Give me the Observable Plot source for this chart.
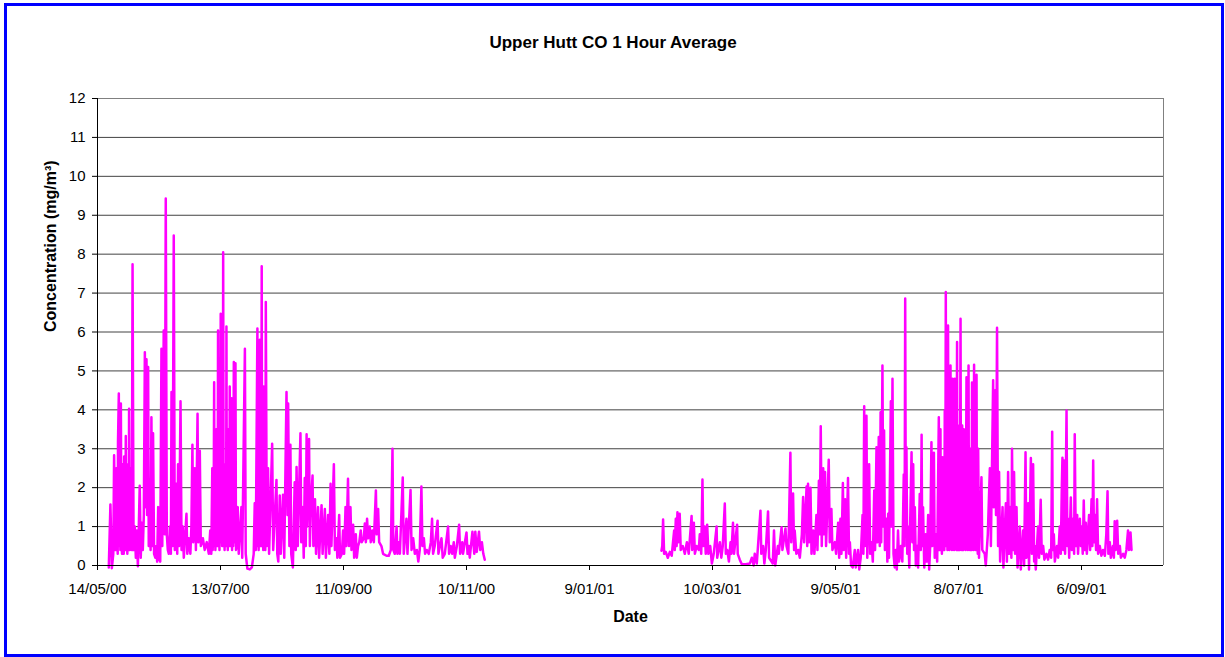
<!DOCTYPE html>
<html><head><meta charset="utf-8">
<script src="https://cdn.jsdelivr.net/npm/d3@7"></script>
<script src="https://cdn.jsdelivr.net/npm/@observablehq/plot@0.6"></script>
<style>
body{margin:0;background:#fff;}
#wrap{position:relative;width:1225px;height:657px;overflow:hidden;background:#fff;}
#wrap svg{display:block;position:absolute;left:0;top:0;}
#border{position:absolute;left:4px;top:3px;width:1220px;height:654px;border:3px solid #0000ff;box-sizing:border-box;pointer-events:none;}
</style></head><body><div id="wrap"><div id="border"></div></div>
<script>
// ---- chart texts ----
const titleText = "Upper Hutt CO 1 Hour Average";
const xLabel = "Date";
const yLabel = "Concentration (mg/m³)";

// ---- axes ----
const startDate = "14/05/00";          // first day of the date axis (day 0)
const endDate = "16/10/01";            // last day of the date axis
const xTickLabels = ["14/05/00","13/07/00","11/09/00","10/11/00","9/01/01","10/03/01","9/05/01","8/07/01","6/09/01"];
const yTickValues = [0,1,2,3,4,5,6,7,8,9,10,11,12];

// ---- data: time in days since 14/05/00, CO concentration in mg/m3 ----
// Period 1: May - Nov 2000
const days2000 = [5.5,6.3,7.0,7.7,8.1,8.7,
9.2,9.45,9.7,9.85,10.0,10.4,10.65,10.9,11.15,11.4,11.65,11.8,11.95,12.2,12.4,12.6,12.8,13.0,13.2,13.4,13.6,13.8,14.05,14.3,14.55,14.8,14.95,15.1,15.25,15.4,15.7,16.0,16.2,
16.7,17.1,17.6,18.2,18.7,19.2,19.7,20.6,21.1,21.6,22.1,22.6,23.1,23.5,23.9,24.2,24.7,25.0,25.5,25.9,26.3,26.7,27.1,27.6,28.2,28.7,29.1,29.6,30.0,30.6,31.2,31.6,32.3,32.8,33.3,33.8,34.3,34.8,35.3,35.8,36.1,36.6,37.2,37.7,38.4,38.9,39.3,39.8,40.5,41.0,41.6,42.1,43.4,43.8,44.5,45.3,45.8,46.3,46.7,47.5,48.0,48.8,49.2,49.9,50.4,51.4,52.3,53.3,54.3,55.0,55.5,
56.0,56.2,56.4,56.6,56.9,57.1,57.3,57.5,57.7,57.85,58.0,58.2,58.4,58.6,58.8,59.05,59.3,59.5,59.7,59.9,60.1,60.35,60.6,60.8,61.0,61.15,61.3,61.55,61.8,62.0,62.2,62.4,62.6,62.75,62.9,63.1,63.3,63.55,63.8,64.05,64.3,64.4,64.5,64.75,65.0,65.2,65.4,65.65,65.9,66.2,66.5,66.75,67.0,67.15,67.3,67.55,67.8,
68.4,68.9,70.2,70.6,71.9,72.3,73.1,74.3,75.3,76.2,76.7,77.2,
78.0,78.2,78.4,78.6,78.8,79.0,79.2,79.45,79.7,79.9,80.1,80.35,80.6,80.85,81.1,81.35,81.6,81.85,82.1,82.6,
83.2,83.7,85.2,85.7,87.3,87.7,88.2,88.9,89.4,90.5,91.1,92.2,92.7,93.0,93.6,94.1,94.5,95.3,96.2,96.7,97.1,97.7,99.0,99.4,100.1,100.6,101.1,101.6,102.0,102.2,103.2,103.6,104.0,104.9,105.3,106.1,106.6,107.6,108.1,109.3,109.8,110.9,111.4,112.5,113.1,113.7,114.1,115.3,115.8,116.6,117.0,117.9,118.3,119.2,119.8,120.3,121.0,121.4,122.2,122.7,123.4,123.9,124.7,125.2,126.0,126.5,127.1,127.7,128.4,128.9,129.9,130.4,130.9,131.5,132.0,132.8,133.3,134.1,134.8,135.8,136.2,136.9,137.4,138.5,139.3,141.0,142.1,143.1,143.9,144.3,145.0,145.9,146.3,147.0,147.5,148.9,149.4,150.7,151.2,152.7,153.2,154.0,154.8,155.8,156.5,157.2,158.0,158.5,159.2,159.8,160.6,161.6,162.6,163.2,163.7,164.5,165.9,166.3,167.0,167.8,168.4,169.4,171.0,171.5,172.3,173.0,173.8,174.3,175.3,176.4,176.9,177.9,178.3,180.0,180.5,181.1,181.6,182.9,183.8,184.3,185.0,186.1,186.7,187.5,188.2,188.9];
const co2000 = [-0.05,1.57,-0.07,0.3,2.83,0.4,
2.5,0.4,1.6,0.3,3.17,4.42,0.5,2.0,0.4,4.16,0.5,1.8,0.3,2.6,0.4,1.5,0.3,2.8,0.5,1.9,0.4,3.33,0.4,1.5,0.3,2.6,0.4,1.8,0.5,4.03,0.4,1.5,2.5,
0.4,7.74,0.4,1.0,0.2,0.9,-0.02,2.05,0.2,1.1,0.4,1.3,5.48,1.5,5.3,1.3,5.1,0.5,2.2,0.4,3.81,0.5,3.4,0.3,0.2,0.5,0.1,1.5,0.2,0.1,5.57,0.5,6.04,0.8,9.43,0.8,0.4,0.3,1.0,0.3,4.46,0.5,8.48,0.4,2.1,0.3,2.6,0.5,4.22,0.4,1.0,0.2,1.33,0.3,0.7,0.3,1.0,3.1,0.6,2.5,0.4,3.9,0.6,2.95,0.5,0.7,0.4,0.6,0.3,0.9,0.3,
2.5,0.4,1.8,0.5,4.71,0.6,2.4,0.4,2.0,0.5,3.5,0.5,2.2,0.6,6.04,0.5,2.8,0.4,2.0,0.6,6.47,0.7,3.0,0.5,2.2,0.6,8.05,0.5,2.5,0.4,1.8,0.5,2.6,0.6,6.14,0.5,2.3,0.4,3.5,0.5,2.0,0.6,4.6,0.5,2.5,0.6,4.3,0.4,2.0,0.5,5.23,0.6,2.3,0.7,5.2,0.4,0.5,
1.5,0.3,1.5,0.2,5.57,0.3,-0.08,-0.1,-0.05,0.3,1.6,0.4,
6.09,0.5,2.2,0.4,1.8,0.5,5.8,0.6,2.6,0.5,7.69,0.5,2.2,0.4,4.6,0.5,2.0,0.4,6.77,0.5,
2.5,0.3,3.13,0.4,2.2,0.3,0.1,1.8,0.3,1.82,0.2,4.46,1.3,4.16,0.5,3.1,0.3,-0.05,2.14,0.4,2.53,0.5,3.4,0.6,1.5,0.2,2.25,0.5,3.37,1.0,3.25,0.5,1.5,2.31,0.5,1.7,0.3,1.5,0.2,1.55,0.3,1.45,0.2,1.3,0.3,2.1,0.5,2.6,0.4,0.7,0.2,1.3,0.2,0.3,0.9,0.3,1.5,0.5,2.23,0.5,1.5,0.4,1.05,0.2,0.8,0.2,0.5,0.6,0.9,0.6,0.7,1.08,0.6,1.2,0.7,1.0,0.6,0.9,0.6,1.93,0.8,1.45,0.6,0.5,0.3,0.25,0.25,0.4,3.0,0.4,0.3,1.0,0.3,0.6,0.3,2.26,0.3,1.2,0.3,1.94,0.4,0.7,0.3,0.4,0.1,0.4,2.03,0.5,0.7,0.3,0.4,0.3,0.6,1.2,0.3,0.5,1.15,0.3,0.5,0.7,0.2,0.3,1.0,0.3,0.5,0.3,0.6,0.2,0.5,1.05,0.3,0.6,0.3,0.85,0.3,0.5,0.2,0.87,0.3,0.87,0.35,0.87,0.4,0.6,0.3,0.15];
// Period 2: Feb - Oct 2001
const days2001 = [275.1,275.5,275.9,276.4,277.2,278.2,279.2,280.1,281.3,281.6,282.1,282.5,282.9,283.3,284.0,284.5,285.5,286.5,287.5,288.4,289.8,290.1,290.9,291.4,292.3,293.3,293.8,294.5,295.1,295.5,296.2,296.7,297.4,298.0,298.9,299.7,300.6,302.0,302.3,303.6,304.3,305.0,306.0,306.5,307.2,308.0,308.8,309.2,310.0,310.5,312.0,312.3,313.3,314.3,316.2,318.2,319.2,320.1,320.6,321.6,323.4,323.8,324.7,325.3,326.0,327.1,327.6,328.8,329.4,330.0,330.6,331.9,332.3,333.7,334.1,335.6,336.1,337.0,338.0,338.4,339.3,339.8,340.1,340.9,341.8,342.6,343.6,344.2,344.7,345.9,346.2,346.6,347.1,347.8,348.3,349.1,349.7,350.7,351.2,351.9,352.3,352.8,353.3,354.0,354.4,354.9,355.4,356.7,357.2,358.0,358.5,359.7,360.3,361.3,361.8,362.4,362.9,363.6,364.0,364.7,365.2,366.1,366.6,367.0,367.6,368.4,369.4,369.9,371.0,371.6,372.3,373.2,373.6,374.0,374.4,375.1,375.5,376.4,376.9,377.6,378.2,378.9,379.3,380.0,380.4,381.1,381.6,382.0,382.3,382.9,383.3,383.7,384.1,384.9,385.3,385.7,386.1,387.0,387.3,387.8,388.3,388.9,389.4,389.9,390.5,391.0,391.9,392.6,393.3,393.7,394.0,394.3,394.6,395.0,395.4,396.0,397.1,397.5,397.9,398.3,398.7,399.2,399.8,400.3,401.1,401.6,402.0,402.3,402.7,403.3,404.0,404.5,405.2,405.7,406.2,406.8,407.2,408.0,408.4,408.9,409.6,
410.4,410.6,410.8,411.0,411.2,411.4,411.6,411.9,412.2,412.6,412.9,413.1,413.3,413.55,413.8,414.05,414.3,414.6,414.9,415.15,415.4,415.6,415.85,416.0,416.1,416.3,416.5,416.8,417.1,417.3,417.5,417.85,418.2,418.45,418.7,419.0,419.3,419.45,419.6,419.75,419.9,420.1,420.3,420.65,421.0,421.2,421.4,421.6,421.8,421.95,422.1,422.35,422.6,422.85,423.1,423.5,423.9,424.1,424.3,424.6,424.9,425.1,425.3,425.6,425.9,426.05,426.2,426.4,426.6,426.85,427.1,427.35,427.6,427.8,428.0,428.4,428.8,429.0,429.2,429.4,429.6,430.0,
431.2,431.6,432.8,433.3,434.3,435.3,435.8,436.9,437.2,437.9,438.3,438.8,439.3,439.8,440.3,441.5,441.9,443.1,443.6,444.2,444.7,445.3,445.8,446.1,446.6,447.1,447.6,448.3,448.8,449.9,450.4,451.5,452.0,452.7,453.1,454.0,454.4,455.3,455.8,456.4,456.9,457.2,457.7,458.8,459.3,460.1,460.6,461.3,461.9,462.9,463.7,464.5,465.2,465.7,466.0,466.5,467.0,468.0,468.6,469.4,469.9,470.4,470.7,471.1,471.5,472.0,472.7,473.1,473.5,474.0,474.8,475.3,475.9,476.4,476.7,477.2,477.9,478.3,479.2,479.7,480.1,480.6,481.1,481.6,482.1,482.6,483.7,484.2,484.9,485.3,485.7,486.1,486.6,487.1,487.6,488.1,488.9,489.7,490.5,491.4,492.1,492.7,493.1,493.8,494.3,495.3,495.8,496.2,496.7,497.4,497.9,498.7,499.2,500.3,501.1,501.9,502.7,503.2,503.9,504.4];
const co2001 = [0.38,0.5,1.18,0.3,0.35,0.2,0.35,0.25,0.9,0.4,1.2,0.5,1.37,0.6,1.33,0.4,0.5,0.3,0.6,0.3,1.27,0.4,1.1,0.3,0.5,0.4,0.8,0.3,2.21,0.5,1.0,0.3,1.05,0.3,0.5,0.05,0.3,1.0,0.2,0.6,0.2,0.5,1.59,0.3,0.4,0.1,0.6,0.3,1.1,0.3,1.05,0.3,0.15,0.03,0.03,0.05,0.2,0.0,0.3,0.05,1.41,0.3,0.5,0.05,0.4,1.39,0.2,0.1,0.05,0.9,0.0,0.5,0.3,0.98,0.4,0.95,0.5,0.3,2.9,0.6,1.85,0.4,0.9,0.3,0.4,0.2,0.8,1.76,0.6,2.03,0.5,2.1,0.6,2.0,0.3,0.9,0.3,1.3,0.4,2.18,0.8,3.58,0.5,2.5,0.8,2.4,0.5,2.72,0.6,1.45,0.4,0.6,0.3,1.1,0.2,1.2,0.3,2.12,0.4,1.7,0.2,2.25,0.3,0.6,0.0,-0.05,0.4,-0.05,0.4,-0.1,0.2,1.3,0.3,4.09,0.5,3.85,0.2,2.6,0.3,0.6,0.1,1.93,0.4,3.04,0.6,3.3,0.5,3.94,0.6,5.14,1.0,3.47,0.4,1.2,0.1,1.33,0.2,4.22,1.0,4.8,0.3,-0.05,0.4,-0.1,0.9,0.1,0.5,0.1,2.34,0.5,6.86,0.8,3.04,0.3,1.0,-0.05,2.91,0.6,2.6,0.4,1.5,0.0,0.5,-0.05,1.84,0.4,3.36,0.5,1.5,-0.05,0.8,0.1,1.3,-0.1,0.5,3.17,0.5,2.9,0.2,0.8,0.1,
3.81,0.4,1.8,0.5,3.5,0.4,1.6,0.3,2.78,0.4,1.5,0.4,3.98,0.6,7.03,0.5,2.4,0.4,6.17,0.5,2.6,0.4,2.0,0.6,5.14,0.5,2.8,0.4,4.8,0.5,2.2,0.4,4.8,0.6,2.6,0.4,5.74,0.5,2.2,0.4,3.6,0.5,2.0,0.4,6.34,0.5,2.1,0.4,3.6,0.5,1.9,0.4,3.5,0.5,1.8,0.4,4.84,0.5,2.2,0.4,5.14,0.5,1.9,0.4,3.0,0.5,2.1,0.4,4.7,0.5,1.9,0.4,5.16,0.5,2.1,0.4,4.9,0.5,1.5,0.3,3.0,0.2,
2.27,0.4,0.3,0.0,0.8,2.5,0.5,4.76,1.5,4.5,1.3,6.11,0.5,2.4,0.1,1.5,-0.05,1.6,0.1,2.4,0.3,1.5,0.2,3.0,0.4,2.4,0.3,1.5,-0.05,1.0,-0.1,0.9,0.0,2.91,0.2,1.6,-0.1,2.76,0.3,2.6,0.1,0.5,-0.1,1.0,0.2,1.69,0.3,0.5,0.15,0.3,0.15,0.4,0.2,3.44,0.4,0.8,0.1,0.5,0.2,1.0,0.3,2.01,2.77,0.4,2.7,0.3,3.98,0.5,1.2,0.2,1.75,0.4,1.2,0.3,3.37,0.5,1.3,0.3,1.2,0.5,1.0,0.3,1.67,0.4,1.1,0.3,1.3,0.4,1.7,0.5,2.7,0.6,1.3,0.4,1.7,0.3,0.5,0.25,0.4,0.25,0.8,1.91,0.3,0.6,0.2,0.5,0.2,1.14,0.4,1.15,0.3,0.5,0.2,0.3,0.2,0.4,0.9,0.4,0.85,0.4];

// ---- build table ----
if (days2000.length !== co2000.length || days2001.length !== co2001.length)
  console.error("length mismatch", days2000.length, co2000.length, days2001.length, co2001.length);
const parseDate = d3.utcParse("%d/%m/%y");
const t0 = parseDate(startDate);
const tEnd = parseDate(endDate);
const toTime = d => new Date(t0.getTime() + d * 864e5);
const rows = [
  ...days2000.map((d, i) => ({time: toTime(d), co: co2000[i], period: "2000"})),
  ...days2001.map((d, i) => ({time: toTime(d), co: co2001[i], period: "2001"}))
];
const xTickDates = xTickLabels.map(parseDate);
const xTickFormat = t => { const i = xTickDates.findIndex(d => +d === +t); return i >= 0 ? xTickLabels[i] : ""; };

const font = "'Liberation Sans', Arial, Helvetica, sans-serif";
const chart = Plot.plot({
  width: 1225,
  height: 657,
  marginLeft: 97,
  marginRight: 62,
  marginTop: 98,
  marginBottom: 92,
  style: {fontFamily: font, fontSize: "15px", color: "#000", background: "transparent", overflow: "visible"},
  x: {type: "utc", domain: [t0, tEnd]},
  y: {domain: [0, 12]},
  marks: [
    Plot.gridY(yTickValues.filter(v => v > 0 && v < 12), {stroke: "#222", strokeOpacity: 0.85}),
    Plot.ruleY([12], {stroke: "#808080", strokeOpacity: 1}),
    Plot.ruleX([tEnd], {stroke: "#808080", strokeOpacity: 1}),
    Plot.line(rows, {x: "time", y: "co", z: "period", stroke: "#ff00ff", strokeWidth: 2.5, strokeLinejoin: "round"}),
    Plot.ruleY([0], {stroke: "#000"}),
    Plot.ruleX([t0], {stroke: "#000"}),
    Plot.axisX({ticks: xTickDates, tickFormat: xTickFormat, tickSize: 5, tickPadding: 13, label: null, fontSize: 15, stroke: "#000"}),
    Plot.axisY({ticks: yTickValues, tickSize: 5, tickPadding: 7, label: null, fontSize: 15, stroke: "#000"}),
    Plot.text([titleText], {frameAnchor: "top", dx: -17.5, dy: -51, lineAnchor: "bottom", fontSize: 17, fontWeight: "bold", fill: "#000"}),
    Plot.text([xLabel], {frameAnchor: "bottom", dy: 56, lineAnchor: "bottom", fontSize: 16, fontWeight: "bold", fill: "#000"}),
    Plot.text([yLabel], {frameAnchor: "left", dx: -42, rotate: -90, lineAnchor: "bottom", fontSize: 16, fontWeight: "bold", fill: "#000"})
  ]
});
document.getElementById("wrap").insertBefore(chart, document.getElementById("border"));
</script></body></html>
